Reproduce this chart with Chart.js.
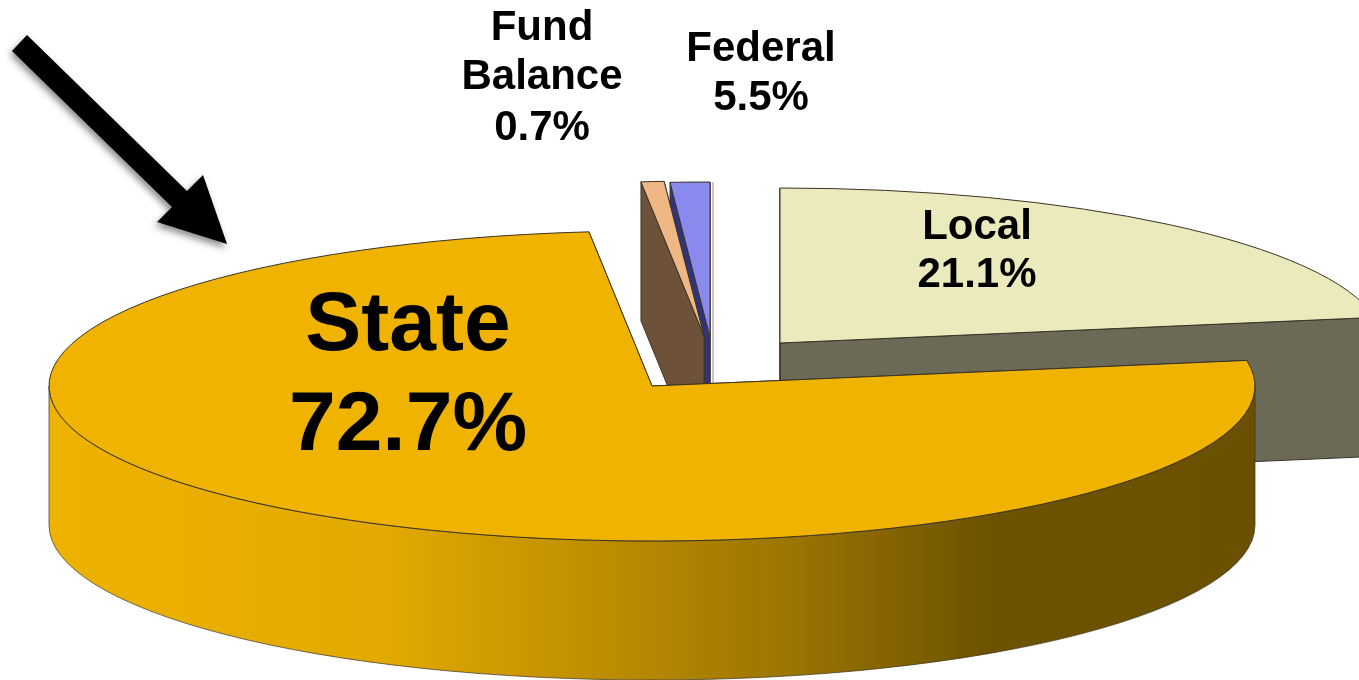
<!DOCTYPE html>
<html>
<head>
<meta charset="utf-8">
<title>Revenue sources</title>
<script src="https://cdn.jsdelivr.net/npm/chart.js@4"></script>
<style>
    html, body { margin: 0; padding: 0; background: #fff; overflow: hidden; }
    canvas { display: block; }
</style>
</head>
<body>
<canvas id="pie" width="1359" height="680"></canvas>
<script>
// Chart data, clockwise from twelve o'clock
const categories = ['Local', 'State', 'Fund Balance', 'Federal'];
const printedPercents = ['21.1%', '72.7%', '0.7%', '5.5%'];
// Sweep of each slice as it is drawn in the picture (degrees), the perspective
// in the source squeezes the small slices so this differs from the printed share
const drawnSweep = [80.5, 273.5, 2.2, 3.8];

// Styles
const topColors = ['#eaeabc', '#efb300', '#efb784', '#8a8aee'];
const wallColors = ['#6a6a56', '#8a6800', '#6e5139', '#33337c'];
const outline = '#3a3226';

// Layout of the tilted pie
const radius = 603;
const tilt = 155 / 603;
const depth = 139;
const drawOrder = [0, 3, 2, 1];
const pull = [[75, -24], [-53, 19], [-1, -31], [5, -30]];

const labelLayout = [
    { name: 'Local', x: 977, y: [239, 287], size: 42 },
    { name: 'State', x: 408, y: [350, 450], size: 84 },
    { name: 'Fund Balance', x: 542, y: [40, 89, 140], size: 42 },
    { name: 'Federal', x: 761, y: [61, 110], size: 42 }
];

const arrowShape = [[27, 35], [187, 191], [203, 175], [227, 244], [157, 222], [172, 207], [12, 51]];

function drawWalls(ctx, arc, i, cx, cy) {
    const a0 = arc.startAngle;
    const a1 = arc.endAngle;
    ctx.strokeStyle = outline;
    ctx.lineWidth = 1;

    // the two cut faces, leading one last so it hides the other
    [a1, a0].forEach(a => {
        const ex = cx + Math.cos(a) * radius;
        const ey = cy + Math.sin(a) * radius * tilt;
        ctx.beginPath();
        ctx.moveTo(cx, cy);
        ctx.lineTo(ex, ey);
        ctx.lineTo(ex, ey + depth);
        ctx.lineTo(cx, cy + depth);
        ctx.closePath();
        ctx.fillStyle = wallColors[i];
        ctx.fill();
        ctx.stroke();
    });

    // outer rim, only the part facing the viewer
    const from = Math.max(a0, 0);
    const to = Math.min(a1, Math.PI);
    if (to > from) {
        const grad = ctx.createLinearGradient(cx - radius, 0, cx + radius, 0);
        grad.addColorStop(0, '#eeb200');
        grad.addColorStop(0.28, '#e2a900');
        grad.addColorStop(0.46, '#bd8d00');
        grad.addColorStop(0.62, '#9a7403');
        grad.addColorStop(0.78, '#6d5200');
        grad.addColorStop(1, '#6a5000');
        ctx.beginPath();
        ctx.ellipse(cx, cy, radius, radius * tilt, 0, from, to);
        ctx.ellipse(cx, cy + depth, radius, radius * tilt, 0, to, from, true);
        ctx.closePath();
        ctx.fillStyle = grad;
        ctx.fill();
        ctx.strokeStyle = 'rgba(58, 50, 38, 0.7)';
        ctx.stroke();
    }
}

// Draws the slices the library laid out as a tilted, exploded 3D pie
const tiltedPie = {
    id: 'tiltedPie',
    beforeDatasetDraw() {
        return false;
    },
    afterDatasetsDraw(chart) {
        const ctx = chart.ctx;
        const arcs = chart.getDatasetMeta(0).data;

        drawOrder.forEach(i => {
            const arc = arcs[i];
            const cx = arc.x + pull[i][0];
            const cy = arc.y + pull[i][1];

            // pale sliver beside the Federal slice
            if (categories[i] === 'Federal') {
                ctx.beginPath();
                ctx.moveTo(cx + 3, cy - radius * tilt);
                ctx.lineTo(cx + 3, cy + depth - 90);
                ctx.strokeStyle = '#b4b4b4';
                ctx.lineWidth = 1.5;
                ctx.stroke();
            }

            drawWalls(ctx, arc, i, cx, cy);

            ctx.save();
            ctx.translate(cx, cy);
            ctx.scale(1, tilt);
            ctx.translate(-arc.x, -arc.y);
            arc.draw(ctx);
            ctx.restore();

            ctx.beginPath();
            ctx.moveTo(cx, cy);
            ctx.ellipse(cx, cy, radius, radius * tilt, 0, arc.startAngle, arc.endAngle);
            ctx.closePath();
            ctx.strokeStyle = outline;
            ctx.lineWidth = 1;
            ctx.stroke();
        });

        drawLabels(ctx);
        drawArrow(ctx);
    }
};

function drawLabels(ctx) {
    ctx.fillStyle = '#000';
    ctx.textAlign = 'center';
    ctx.textBaseline = 'alphabetic';
    labelLayout.forEach(label => {
        const i = categories.indexOf(label.name);
        const lines = [...label.name.split(' '), printedPercents[i]];
        ctx.font = `bold ${label.size}px "Liberation Sans", Arial, sans-serif`;
        lines.forEach((line, n) => ctx.fillText(line, label.x, label.y[n]));
    });
}

function drawArrow(ctx) {
    ctx.save();
    ctx.shadowColor = 'rgba(0, 0, 0, 0.45)';
    ctx.shadowBlur = 7;
    ctx.shadowOffsetX = -2;
    ctx.shadowOffsetY = 4;
    ctx.fillStyle = '#000';
    ctx.beginPath();
    arrowShape.forEach((p, n) => (n ? ctx.lineTo(p[0], p[1]) : ctx.moveTo(p[0], p[1])));
    ctx.closePath();
    ctx.fill();
    ctx.restore();
}

new Chart(document.getElementById('pie'), {
    type: 'pie',
    data: {
        labels: categories,
        datasets: [{
            data: drawnSweep,
            backgroundColor: topColors,
            borderWidth: 0,
            clip: false
        }]
    },
    options: {
        responsive: false,
        animation: false,
        radius: radius,
        layout: { padding: { left: 51, top: 54 } },
        plugins: {
            legend: { display: false },
            tooltip: { enabled: false }
        }
    },
    plugins: [tiltedPie]
});
</script>
</body>
</html>
